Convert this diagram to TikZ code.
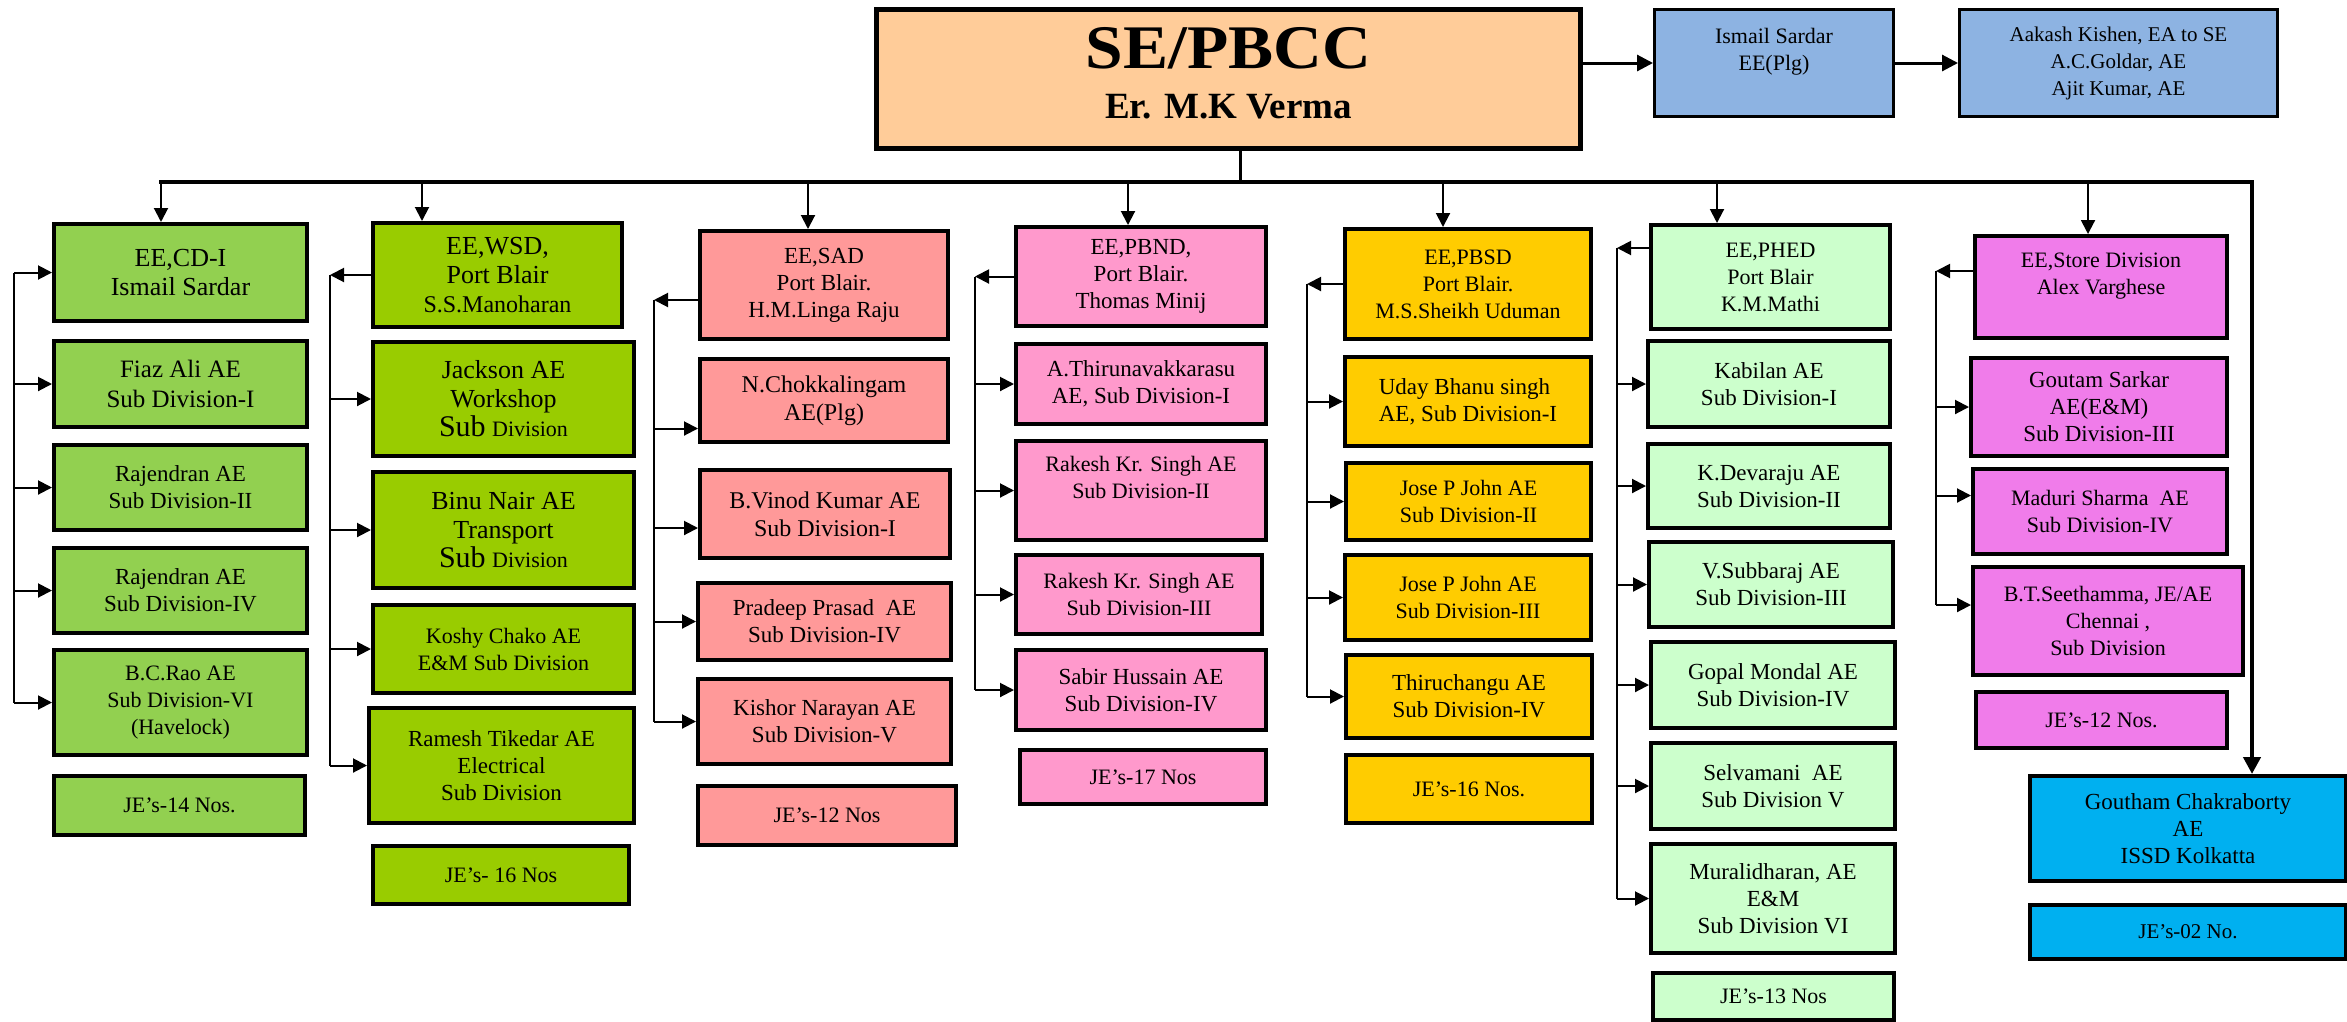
\documentclass[tikz,border=0pt]{standalone}
\usepackage{fontspec}
\setmainfont{Liberation Serif}
\usetikzlibrary{arrows.meta}
\definecolor{ctop}{HTML}{FFCC99}
\definecolor{cblue}{HTML}{8DB3E2}
\definecolor{ca}{HTML}{92D050}
\definecolor{cbb}{HTML}{99CC00}
\definecolor{cc}{HTML}{FF9999}
\definecolor{cd}{HTML}{FF99CC}
\definecolor{ce}{HTML}{FFCC00}
\definecolor{cf}{HTML}{CCFFCC}
\definecolor{cg}{HTML}{F07CEA}
\definecolor{ch}{HTML}{00B0F0}
\tikzset{
  box/.style={draw=black, line width=4pt, rectangle, align=center, inner sep=0pt},
  f21/.style={font=\fontsize{21}{27}\selectfont},
  f22/.style={font=\fontsize{22}{27}\selectfont},
  f23/.style={font=\fontsize{23}{27}\selectfont},
  f24/.style={font=\fontsize{24}{28}\selectfont},
  f25/.style={font=\fontsize{25}{30}\selectfont},
  f26/.style={font=\fontsize{26}{29}\selectfont},
  arr/.style={line width=2pt, -{Triangle[length=14pt,width=14pt]}},
  tarr/.style={line width=3pt, -{Triangle[length=16pt,width=16pt]}},
  ln/.style={line width=2pt},
}
\newcommand{\ob}[8]{\node[box,fill=#2,#7,anchor=north west,minimum width={(#5)-(#3)},minimum height={(#6)-(#4)}] (#1) at (#3,#4) {#8};}
\begin{document}
\begin{tikzpicture}[x=1pt,y=-1pt]
\useasboundingbox (0,0) rectangle (2347,1021);
% top
\node[box, fill=ctop, line width=5pt, anchor=north west, minimum width=704, minimum height=139, font=\bfseries\fontsize{37}{50}\selectfont] (se) at (874,7) {{\fontsize{62}{62}\selectfont\scalebox{1.09}[1]{SE/PBCC}}\\Er. M.K Verma\rule[-12pt]{0pt}{0pt}};
\ob{ism}{cblue}{1653}{8}{1892}{115}{f22,line width=3pt}{Ismail Sardar\\EE(Plg)\\\mbox{}}
\ob{aak}{cblue}{1958}{8}{2276}{115}{f21,line width=3pt}{Aakash Kishen, EA to SE\\A.C.Goldar, AE\\Ajit Kumar, AE}
% column 1
\ob{cdi}{ca}{52}{222}{305}{319}{f26}{EE,CD-I\\Ismail Sardar}
\ob{fiaz}{ca}{52}{339}{305}{425}{f25}{Fiaz Ali AE\\Sub Division-I}
\ob{raj2}{ca}{52}{443}{305}{528}{f23}{Rajendran AE\\Sub Division-II}
\ob{raj4}{ca}{52}{546}{305}{631}{f23}{Rajendran AE\\Sub Division-IV}
\ob{bcrao}{ca}{52}{648}{305}{753}{f22}{B.C.Rao AE\\Sub Division-VI\\(Havelock)}
\ob{je14}{ca}{52}{774}{303}{833}{f22}{JE’s-14 Nos.}
% column 2
\ob{wsd}{cbb}{371}{221}{620}{325}{f26}{EE,WSD,\\Port Blair\\{\fontsize{24}{28}\selectfont S.S.Manoharan}}
\ob{jack}{cbb}{371}{340}{632}{454}{f26}{Jackson AE\\Workshop\\{\fontsize{30}{31}\selectfont Sub} {\fontsize{22}{31}\selectfont Division}}
\ob{binu}{cbb}{371}{470}{632}{586}{f26}{Binu Nair AE\\Transport\\{\fontsize{30}{31}\selectfont Sub} {\fontsize{22}{31}\selectfont Division}}
\ob{koshy}{cbb}{371}{603}{632}{691}{f22}{Koshy Chako AE\\E\&M Sub Division}
\ob{ramesh}{cbb}{367}{706}{632}{821}{f23}{Ramesh Tikedar AE\\Electrical\\Sub Division}
\ob{jesixa}{cbb}{371}{844}{627}{902}{f22}{JE’s- 16 Nos}
% column 3
\ob{sad}{cc}{698}{229}{946}{337}{f23}{EE,SAD\\Port Blair.\\H.M.Linga Raju}
\ob{chok}{cc}{698}{357}{946}{440}{f24}{N.Chokkalingam\\AE(Plg)}
\ob{vinod}{cc}{698}{468}{948}{556}{f24}{B.Vinod Kumar AE\\Sub Division-I}
\ob{prad}{cc}{696}{581}{949}{658}{f23}{Pradeep Prasad\ \ AE\\Sub Division-IV}
\ob{kish}{cc}{696}{677}{949}{762}{f23}{Kishor Narayan AE\\Sub Division-V}
\ob{jetwa}{cc}{696}{784}{954}{843}{f22}{JE’s-12 Nos}
% column 4
\ob{pbnd}{cd}{1014}{225}{1264}{324}{f23}{EE,PBND,\\Port Blair.\\Thomas Minij}
\ob{thiru}{cd}{1014}{342}{1264}{422}{f23}{A.Thirunavakkarasu\\AE, Sub Division-I}
\ob{raktwo}{cd}{1014}{439}{1264}{538}{f22}{Rakesh Kr. Singh AE\\Sub Division-II\\\mbox{}}
\ob{rakthree}{cd}{1014}{553}{1260}{632}{f22}{Rakesh Kr. Singh AE\\Sub Division-III}
\ob{sabir}{cd}{1014}{648}{1264}{728}{f23}{Sabir Hussain AE\\Sub Division-IV}
\ob{jeseven}{cd}{1018}{748}{1264}{802}{f22}{JE’s-17 Nos}
% column 5
\ob{pbsd}{ce}{1343}{227}{1589}{337}{f22}{EE,PBSD\\Port Blair.\\M.S.Sheikh Uduman}
\ob{uday}{ce}{1343}{355}{1589}{444}{f23,align=left}{Uday Bhanu singh\\AE, Sub Division-I}
\ob{josetwo}{ce}{1344}{461}{1589}{538}{f22}{Jose P John AE\\Sub Division-II}
\ob{josethree}{ce}{1343}{553}{1589}{638}{f22}{Jose P John AE\\Sub Division-III}
\ob{thch}{ce}{1344}{653}{1590}{736}{f23}{Thiruchangu AE\\Sub Division-IV}
\ob{jesixb}{ce}{1344}{753}{1590}{821}{f22}{JE’s-16 Nos.}
% column 6
\ob{phed}{cf}{1649}{223}{1888}{327}{f22}{EE,PHED\\Port Blair\\K.M.Mathi}
\ob{kab}{cf}{1646}{339}{1888}{425}{f23}{Kabilan AE\\Sub Division-I}
\ob{dev}{cf}{1646}{442}{1888}{526}{f23}{K.Devaraju AE\\Sub Division-II}
\ob{subb}{cf}{1647}{540}{1891}{625}{f23}{V.Subbaraj AE\\Sub Division-III}
\ob{gop}{cf}{1649}{640}{1893}{726}{f23}{Gopal Mondal AE\\Sub Division-IV}
\ob{sel}{cf}{1649}{741}{1893}{827}{f23}{Selvamani\ \ AE\\Sub Division V}
\ob{mur}{cf}{1649}{842}{1893}{951}{f23}{Muralidharan, AE\\E\&M\\Sub Division VI}
\ob{jethirteen}{cf}{1651}{971}{1892}{1018}{f22}{JE’s-13 Nos}
% column 7
\ob{store}{cg}{1973}{234}{2225}{336}{f22}{EE,Store Division\\Alex Varghese\\\mbox{}}
\ob{gs}{cg}{1969}{356}{2225}{454}{f23}{Goutam Sarkar\\AE(E\&M)\\Sub Division-III}
\ob{mad}{cg}{1971}{467}{2225}{552}{f22}{Maduri Sharma\ \ AE\\Sub Division-IV}
\ob{bts}{cg}{1971}{565}{2241}{673}{f22}{B.T.Seethamma, JE/AE\\Chennai ,\\Sub Division}
\ob{jetwb}{cg}{1974}{690}{2225}{746}{f22}{JE’s-12 Nos.}
% right
\ob{gc}{ch}{2028}{774}{2344}{879}{f23}{Goutham Chakraborty\\AE\\ISSD Kolkatta}
\ob{jezero}{ch}{2028}{903}{2344}{957}{f21}{JE’s-02 No.}
% top connectors
\draw[tarr] (se.east |- ism.west) -- (ism.west);
\draw[tarr] (ism.east) -- (aak.west);
\coordinate (bj) at (1240,182);
\draw[line width=3pt] (bj |- se.south) -- (bj);
\coordinate (bL) at (159,182);
\coordinate (bR) at (2252,182);
\draw[line width=4.5pt, -{Triangle[length=17pt,width=17pt]}] (bL) -- (bR) -- (bR |- gc.north);
% down arrows
\coordinate (b1) at (161,182);
\coordinate (b2) at (422,182);
\coordinate (b3) at (808,182);
\coordinate (b4) at (1128,182);
\coordinate (b5) at (1443,182);
\coordinate (b6) at (1717,182);
\coordinate (b7) at (2088,182);
\draw[arr] (b1) -- (b1 |- cdi.north);
\draw[arr] (b2) -- (b2 |- wsd.north);
\draw[arr] (b3) -- (b3 |- sad.north);
\draw[arr] (b4) -- (b4 |- pbnd.north);
\draw[arr] (b5) -- (b5 |- pbsd.north);
\draw[arr] (b6) -- (b6 |- phed.north);
\draw[arr] (b7) -- (b7 |- store.north);
% column 1 bracket
\coordinate (k1) at (14,0);
\draw[ln] (k1 |- cdi.west) -- (k1 |- bcrao.west);
\foreach \n in {cdi,fiaz,raj2,raj4,bcrao} \draw[arr] (k1 |- \n.west) -- (\n.west);
% column 2
\coordinate (k2) at (330,0);
\draw[arr] (wsd.west) -- (k2 |- wsd.west);
\draw[ln] (k2 |- wsd.west) -- (k2 |- ramesh.west);
\foreach \n in {jack,binu,koshy,ramesh} \draw[arr] (k2 |- \n.west) -- (\n.west);
% column 3
\coordinate (k3) at (654,0);
\coordinate (sadA) at ([yshift=-15pt]sad.west);
\coordinate (chokA) at ([yshift=-28pt]chok.west);
\coordinate (vinodA) at ([yshift=-14pt]vinod.west);
\draw[arr] (sadA) -- (k3 |- sadA);
\draw[ln] (k3 |- sadA) -- (k3 |- kish.west);
\foreach \n in {chokA,vinodA,prad.west,kish.west} \draw[arr] (k3 |- \n) -- (\n);
% column 4
\coordinate (k4) at (975,0);
\draw[arr] (pbnd.west) -- (k4 |- pbnd.west);
\draw[ln] (k4 |- pbnd.west) -- (k4 |- sabir.west);
\foreach \n in {thiru,raktwo,rakthree,sabir} \draw[arr] (k4 |- \n.west) -- (\n.west);
% column 5
\coordinate (k5) at (1307,0);
\draw[arr] (pbsd.west) -- (k5 |- pbsd.west);
\draw[ln] (k5 |- pbsd.west) -- (k5 |- thch.west);
\foreach \n in {uday,josetwo,josethree,thch} \draw[arr] (k5 |- \n.west) -- (\n.west);
% column 6
\coordinate (k6) at (1617,0);
\coordinate (phedA) at ([yshift=29pt]phed.west);
\draw[arr] (phedA) -- (k6 |- phedA);
\draw[ln] (k6 |- phedA) -- (k6 |- mur.west);
\foreach \n in {kab,dev,subb,gop,sel,mur} \draw[arr] (k6 |- \n.west) -- (\n.west);
% column 7
\coordinate (k7) at (1936,0);
\coordinate (storeA) at ([yshift=16pt]store.west);
\coordinate (madA) at ([yshift=16pt]mad.west);
\coordinate (btsA) at ([yshift=16pt]bts.west);
\draw[arr] (storeA) -- (k7 |- storeA);
\draw[ln] (k7 |- storeA) -- (k7 |- btsA);
\foreach \n in {gs.west,madA,btsA} \draw[arr] (k7 |- \n) -- (\n);
\end{tikzpicture}
\end{document}
